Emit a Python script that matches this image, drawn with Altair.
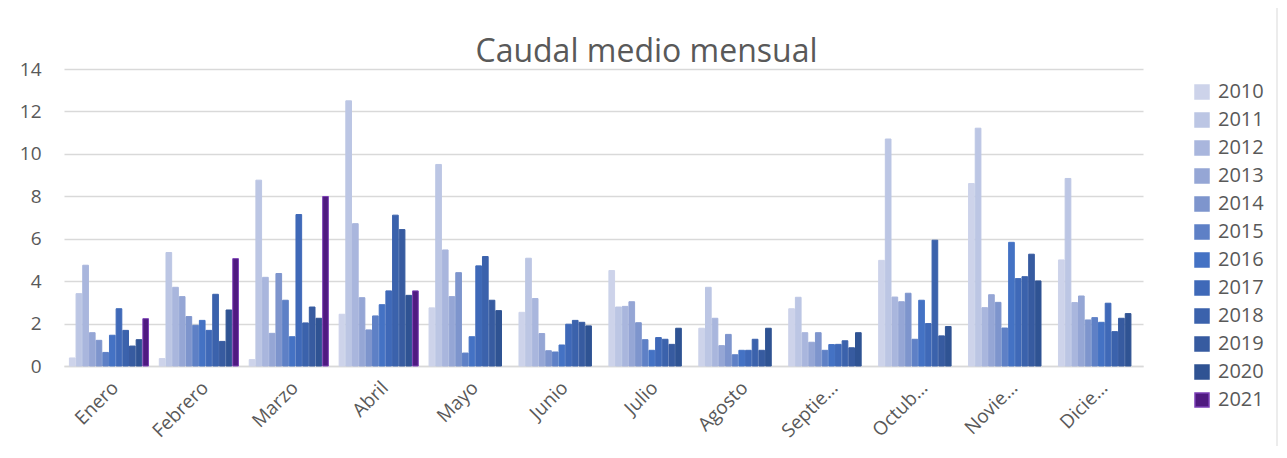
import altair as alt
import pandas as pd

months = ["Enero", "Febrero", "Marzo", "Abril", "Mayo", "Junio", "Julio",
          "Agosto", "Septie…", "Octub…", "Novie…", "Dicie…"]
years = ["2010", "2011", "2012", "2013", "2014", "2015", "2016", "2017",
         "2018", "2019", "2020", "2021"]

v2010 = [0.38, 0.35, 0.30, 2.44, 2.74, 2.53, 4.50, 1.78, 2.70, 4.98, 8.60, 5.00]
v2011 = [3.41, 5.35, 8.76, 12.5, 9.50, 5.08, 2.78, 3.71, 3.24, 10.7, 11.21, 8.84]
v2012 = [4.75, 3.71, 4.18, 6.71, 5.47, 3.18, 2.81, 2.25, 1.57, 3.25, 2.75, 2.99]
v2013 = [1.57, 3.27, 1.54, 3.22, 3.27, 1.53, 3.03, 0.96, 1.12, 3.03, 3.36, 3.30]
v2014 = [1.21, 2.33, 4.36, 1.70, 4.40, 0.72, 2.04, 1.49, 1.57, 3.43, 3.00, 2.17]
v2015 = [0.64, 1.92, 3.10, 2.36, 0.61, 0.66, 1.24, 0.53, 0.74, 1.26, 1.79, 2.28]
v2016 = [1.45, 2.15, 1.38, 2.89, 1.38, 0.99, 0.74, 0.74, 1.01, 3.10, 5.83, 2.06]
v2017 = [2.70, 1.68, 7.14, 3.54, 4.72, 1.97, 1.34, 0.74, 1.02, 2.00, 4.12, 2.96]
v2018 = [1.68, 3.38, 2.03, 7.11, 5.16, 2.15, 1.26, 1.26, 1.19, 5.93, 4.21, 1.62]
v2019 = [0.94, 1.16, 2.78, 6.43, 3.10, 2.06, 1.02, 0.74, 0.86, 1.42, 5.27, 2.25]
v2020 = [1.24, 2.64, 2.25, 3.33, 2.61, 1.89, 1.78, 1.78, 1.57, 1.86, 4.01, 2.47]
v2021 = [2.23, 5.06, 7.99, 3.54]

series = [v2010, v2011, v2012, v2013, v2014, v2015, v2016, v2017, v2018,
          v2019, v2020, v2021]

fill_colors = ["#CDD3EA", "#BCC6E4", "#A9B6DD", "#95A6D5", "#7E95CD", "#5E80C6",
               "#4472C4", "#3F69B8", "#3B62AC", "#375BA0", "#2F5393", "#4F1A80"]
stroke_colors = fill_colors[:-1] + ["#7B3FB5"]

rows = []
for y, vals in zip(years, series):
    for m, v in zip(months, vals):
        rows.append({"mes": m, "año": y, "caudal": v})
df = pd.DataFrame(rows)

W, H = 1079, 297
FONT = "Open Sans"
GREY = "#595959"

bars = alt.Chart(df).mark_bar(strokeWidth=1).encode(
    x=alt.X("mes:N", sort=months,
            scale=alt.Scale(paddingInner=0.12, paddingOuter=0.06),
            axis=alt.Axis(title=None, labelAngle=-45, labelFontSize=19,
                          labelColor=GREY, labelFont=FONT, ticks=False,
                          domainColor="#D9D9D9", domainWidth=1.5,
                          labelPadding=12, labelLimit=200)),
    xOffset=alt.XOffset("año:N", sort=years,
                        scale=alt.Scale(domain=years, paddingInner=0.15)),
    y=alt.Y("caudal:Q",
            scale=alt.Scale(domain=[0, 14], nice=False),
            axis=alt.Axis(title=None, values=[0, 2, 4, 6, 8, 10, 12, 14],
                          domain=False, ticks=False, gridColor="#D9D9D9",
                          gridWidth=1.3, labelFontSize=19, labelColor=GREY,
                          labelFont=FONT, labelPadding=23)),
    fill=alt.Fill("año:N", sort=years,
                  scale=alt.Scale(domain=years, range=fill_colors),
                  legend=alt.Legend(title=None, orient="none",
                                    legendX=1128, legendY=13,
                                    symbolType="square", symbolSize=196,
                                    symbolStrokeWidth=1.5,
                                    labelFontSize=20, labelColor=GREY,
                                    labelFont=FONT, labelOffset=6,
                                    rowPadding=8, padding=0)),
    stroke=alt.Stroke("año:N", sort=years,
                      scale=alt.Scale(domain=years, range=stroke_colors),
                      legend=alt.Legend(title=None)),
)

border = alt.Chart(pd.DataFrame({"k": [0]})).mark_rect(
    fill=None, stroke="#D9D9D9", strokeWidth=1
).encode(
    x=alt.value(-57), x2=alt.value(1213), y=alt.value(-62), y2=alt.value(381)
)

chart = alt.layer(border, bars).properties(
    width=W, height=H,
    autosize=alt.AutoSizeParams(type="none"),
    padding={"left": 56, "top": 61, "right": 136, "bottom": 80},
    title=alt.TitleParams("Caudal medio mensual", fontSize=32, font=FONT,
                          fontWeight="normal", color=GREY, anchor="middle",
                          dx=43, dy=66, offset=4),
).configure_view(stroke=None)

chart.save("out.html", embed_options={"renderer": "svg", "actions": False})
